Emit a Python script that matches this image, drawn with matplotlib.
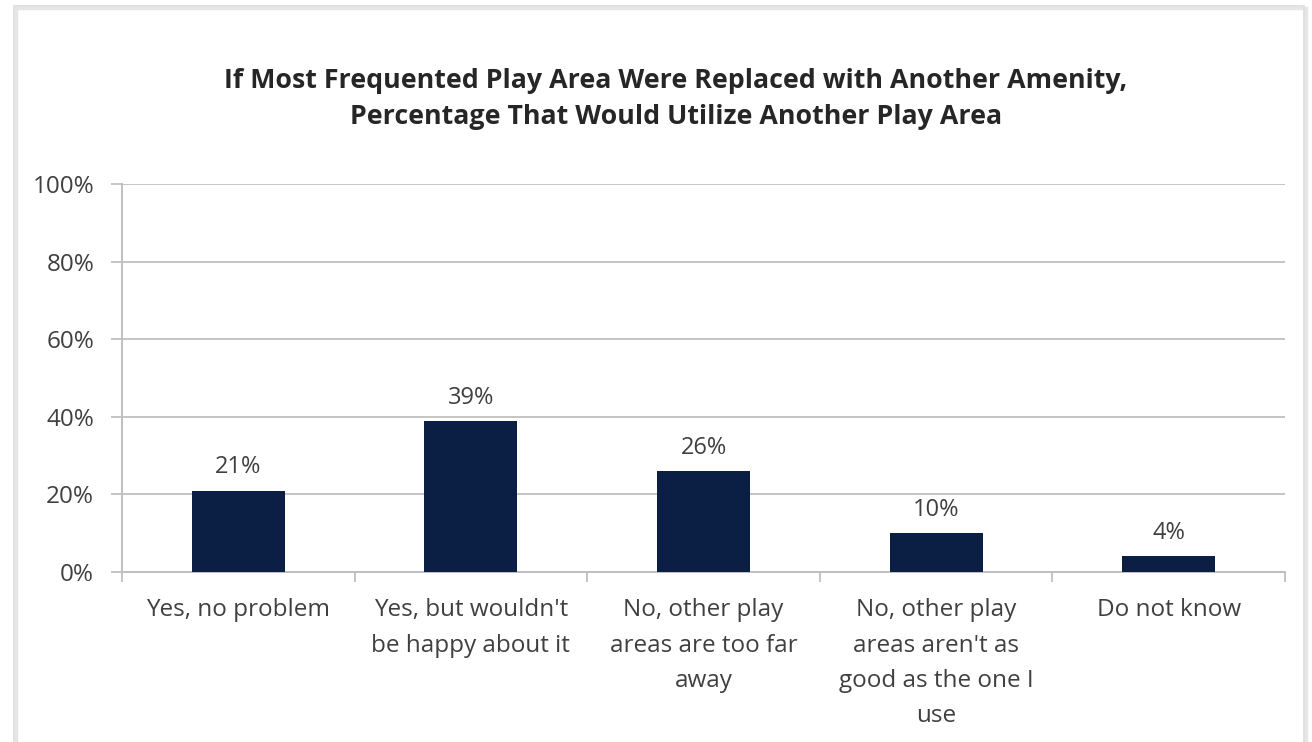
import numpy as np
import matplotlib.pyplot as plt
from matplotlib.patches import Rectangle
from matplotlib.ticker import PercentFormatter

plt.rcParams['font.family'] = ['Open Sans', 'DejaVu Sans']

categories = ["Yes, no problem",
              "Yes, but wouldn't\nbe happy about it",
              "No, other play\nareas are too far\naway",
              "No, other play\nareas aren't as\ngood as the one I\nuse",
              "Do not know"]
values = [21, 39, 26, 10, 4]
yticks = [0, 20, 40, 60, 80, 100]

title = ("If Most Frequented Play Area Were Replaced with Another Amenity,\n"
         "Percentage That Would Utilize Another Play Area")

fig = plt.figure(figsize=(13.12, 7.42), dpi=100)
fig.patch.set_facecolor('white')

# outer frame of the screenshot
fig.patches.append(Rectangle((16 / 1312, -0.05), 1290 / 1312, 1.05 - 8 / 742,
                             transform=fig.transFigure, fill=False,
                             edgecolor='#b8b8b8', linewidth=2.5, alpha=0.35))
fig.patches.append(Rectangle((14 / 1312, -0.05), 1290 / 1312, 1.05 - 6 / 742,
                             transform=fig.transFigure, fill=False,
                             edgecolor='#dcdcdc', linewidth=1.2))

ax = fig.add_axes([122 / 1312, 1 - 572 / 742, 1163 / 1312, 388 / 742])

x = np.arange(len(categories))
bars = ax.bar(x, values, width=0.4, color='#0b1f45', zorder=3)
for b, v in zip(bars, values):
    ax.annotate(f"{v}%", (b.get_x() + b.get_width() / 2, v),
                xytext=(0, 8), textcoords='offset points',
                ha='center', va='bottom', fontsize=17, color='#404040')

ax.set_xlim(-0.5, len(categories) - 0.5)
ax.set_ylim(0, 100)
ax.set_yticks(yticks)
ax.yaxis.set_major_formatter(PercentFormatter(decimals=0))
ax.set_xticks(x)
ax.set_xticklabels(categories, fontsize=17.5, color='#404040', linespacing=1.62)
ax.set_xticks(np.arange(-0.5, len(categories)), minor=True)
ax.tick_params(axis='x', which='major', length=0, pad=19)
ax.tick_params(axis='x', which='minor', length=7, color='#bfbfbf', width=1.3)
ax.tick_params(axis='y', labelsize=17.5, labelcolor='#404040', length=8,
               color='#bfbfbf', width=1.3, pad=12)

ax.grid(axis='y', color='#c4c4c4', linewidth=1.4, zorder=0)
for s in ['top', 'right']:
    ax.spines[s].set_visible(False)
for s in ['left', 'bottom']:
    ax.spines[s].set_color('#bfbfbf')
    ax.spines[s].set_linewidth(1.4)

fig.text(0.5 + 20 / 1312, 1 - 99 / 742, title, ha='center', va='center',
         fontsize=19.3, fontweight='bold', color='#262626', linespacing=1.55)

fig.savefig('out.png', dpi=100)
